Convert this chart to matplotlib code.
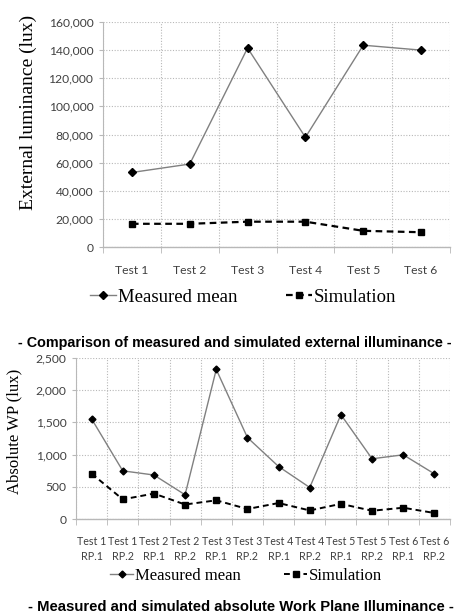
import matplotlib
matplotlib.use("Agg")
import matplotlib.pyplot as plt
from matplotlib.ticker import FuncFormatter, FixedLocator
import numpy as np

# Data
tests = ["Test 1", "Test 2", "Test 3", "Test 4", "Test 5", "Test 6"]
ext_measured = [53000, 59000, 141500, 78000, 143500, 140000]
ext_simulation = [16500, 16500, 18000, 18000, 11500, 10500]

wp_labels = ["Test 1\nRP.1", "Test 1\nRP.2", "Test 2\nRP.1", "Test 2\nRP.2",
             "Test 3\nRP.1", "Test 3\nRP.2", "Test 4\nRP.1", "Test 4\nRP.2",
             "Test 5\nRP.1", "Test 5\nRP.2", "Test 6\nRP.1", "Test 6\nRP.2"]
wp_measured = [1555, 748, 683, 376, 2322, 1265, 815, 489, 1620, 935, 997, 701]
wp_simulation = [705, 305, 395, 225, 290, 155, 248, 133, 235, 128, 175, 93]

W, H = 454, 615
fig = plt.figure(figsize=(W / 100, H / 100), dpi=100)

def fx(px):
    return px / W

def fy(py):
    return 1 - py / H

tick_family = ["Lato", "DejaVu Sans"]
tick_color = "#404040"
serif = ["Liberation Serif", "DejaVu Serif"]
grid_c = "#b8b8b8"
axis_c = "#b8b8b8"

def style_axes(ax, n, labels, ymax, ystep, xfs, xpad):
    x = np.arange(n)
    ax.set_xlim(-0.5, n - 0.5)
    ax.set_ylim(0, ymax)
    ax.set_yticks(np.arange(0, ymax + 1, ystep))
    ax.yaxis.set_major_formatter(FuncFormatter(lambda v, p: f"{int(v):,}"))
    ax.set_xticks(x)
    ax.set_xticklabels(labels)
    ax.xaxis.set_minor_locator(FixedLocator(np.arange(-0.5, n, 1.0)))
    ax.tick_params(axis="x", which="major", length=0, pad=xpad)
    ax.tick_params(axis="x", which="minor", length=4, color=axis_c, direction="out")
    ax.tick_params(axis="y", which="major", length=3, color=axis_c, pad=4)
    for lab in ax.get_xticklabels():
        lab.set_fontfamily(tick_family)
        lab.set_fontsize(xfs)
        lab.set_color(tick_color)
        lab.set_linespacing(1.45)
    for lab in ax.get_yticklabels():
        lab.set_fontfamily(tick_family)
        lab.set_fontsize(8.7)
        lab.set_color(tick_color)
    ax.grid(True, axis="y", which="major", linestyle=(0, (1, 1.5)), color=grid_c, linewidth=0.8)
    ax.grid(True, axis="x", which="minor", linestyle=(0, (1, 1.5)), color=grid_c, linewidth=0.8)
    ax.grid(False, axis="x", which="major")
    for s in ["top", "right"]:
        ax.spines[s].set_visible(False)
    ax.spines["left"].set_color(axis_c)
    ax.spines["bottom"].set_color(axis_c)
    ax.spines["left"].set_linewidth(0.8)
    ax.spines["bottom"].set_linewidth(1.0)
    ax.set_axisbelow(True)

# Top chart
ax1 = fig.add_axes([fx(103), fy(247), fx(450 - 103), (247 - 22) / H])
x1 = np.arange(len(tests))
l1, = ax1.plot(x1, ext_measured, color="#808080", linewidth=1.0, marker="D",
               markersize=4.5, markerfacecolor="black", markeredgecolor="black",
               label="Measured mean", zorder=3)
l2, = ax1.plot(x1, ext_simulation, color="black", linewidth=1.6, linestyle=(0, (3, 2)),
               marker="s", markersize=4.5, markerfacecolor="black",
               markeredgecolor="black", label="Simulation", zorder=3)
style_axes(ax1, len(tests), tests, 160000, 20000, 8.7, 13)
fig.text(fx(28), fy(112), "External luminance (lux)", rotation=90, ha="center",
         va="center", family=serif, fontsize=14)
fig.legend(handles=[l1, l2], loc="center", bbox_to_anchor=(fx(243), fy(297)),
           ncol=2, frameon=False, prop={"family": serif, "size": 13.5},
           handlelength=1.4, handletextpad=0.1, columnspacing=2.6)
fig.text(fx(235), fy(343), "- Comparison of measured and simulated external illuminance -",
         ha="center", va="center", family=["Liberation Sans", "DejaVu Sans"],
         fontweight="bold", fontsize=10.4)

# Bottom chart
ax2 = fig.add_axes([fx(76), fy(519), fx(450 - 76), (519 - 358) / H])
x2 = np.arange(len(wp_labels))
m1, = ax2.plot(x2, wp_measured, color="#808080", linewidth=1.0, marker="D",
               markersize=3.5, markerfacecolor="black", markeredgecolor="black",
               label="Measured mean", zorder=3)
m2, = ax2.plot(x2, wp_simulation, color="black", linewidth=1.4, linestyle=(0, (3, 2)),
               marker="s", markersize=3.8, markerfacecolor="black",
               markeredgecolor="black", label="Simulation", zorder=3)
style_axes(ax2, len(wp_labels), wp_labels, 2500, 500, 7.7, 12)
fig.text(fx(14), fy(431), "Absolute WP (lux)", rotation=90, ha="center",
         va="center", family=serif, fontsize=12)
fig.legend(handles=[m1, m2], loc="center", bbox_to_anchor=(fx(246), fy(576)),
           ncol=2, frameon=False, prop={"family": serif, "size": 12},
           handlelength=1.4, handletextpad=0.1, columnspacing=2.6)
fig.text(fx(241), fy(607), "- Measured and simulated absolute Work Plane Illuminance -",
         ha="center", va="center", family=["Liberation Sans", "DejaVu Sans"],
         fontweight="bold", fontsize=10.7)

fig.savefig("out.png", dpi=100)
